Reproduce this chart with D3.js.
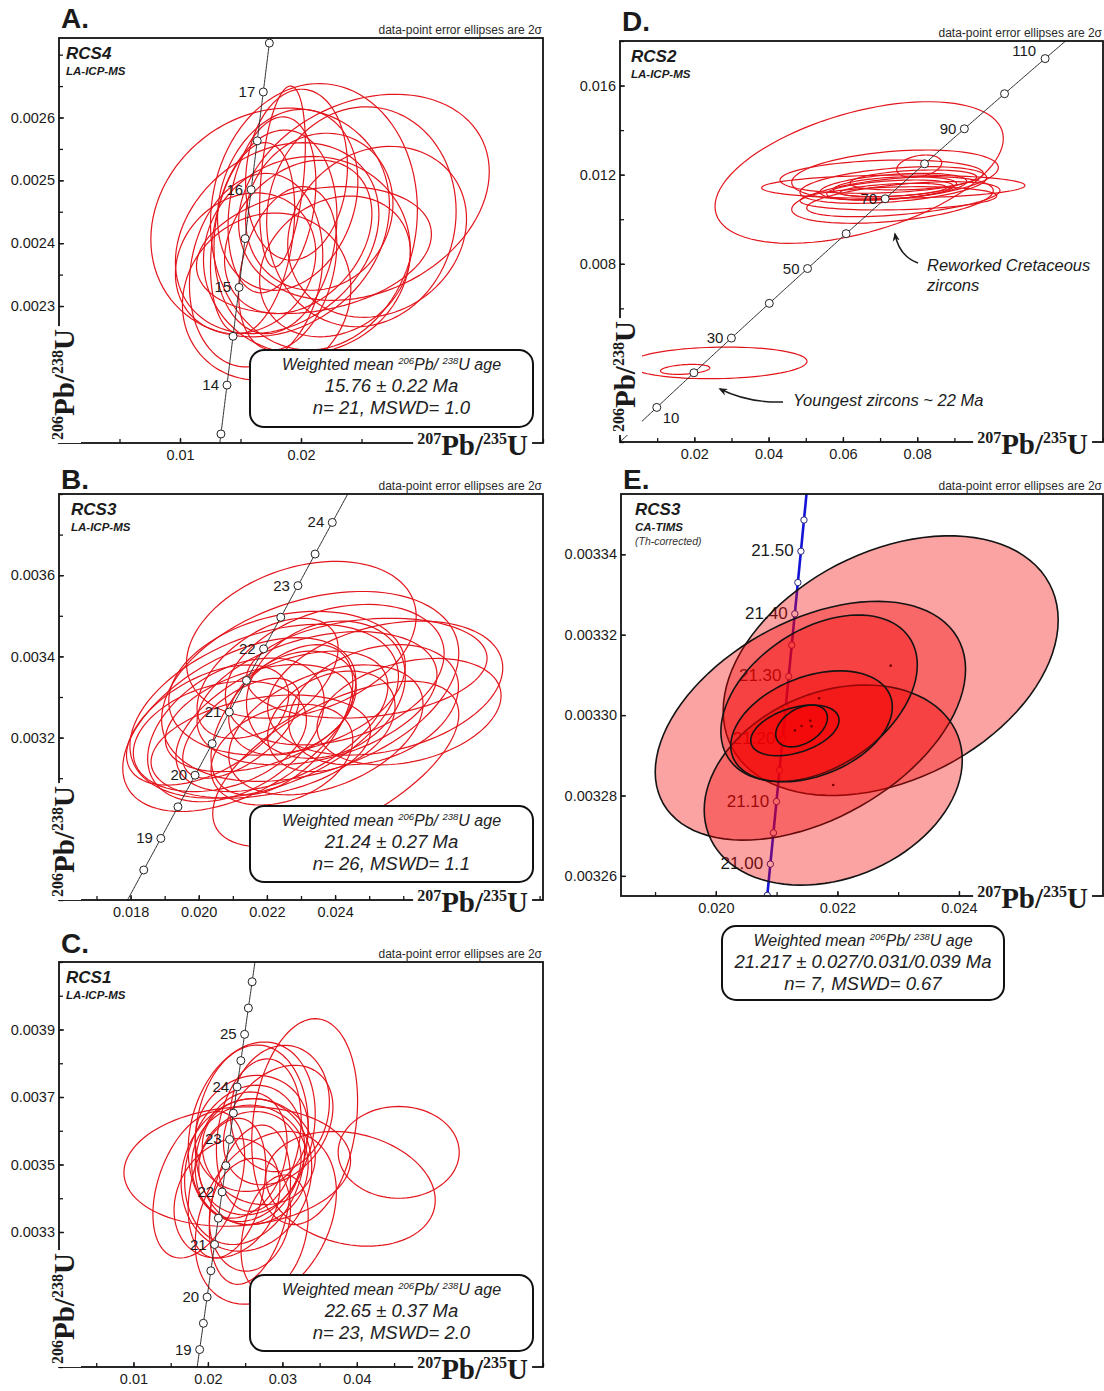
<!DOCTYPE html>
<html>
<head>
<meta charset="utf-8">
<script src="https://cdn.jsdelivr.net/npm/d3@7"></script>
<style>
  body { margin: 0; background: #fff; }
  svg { display: block; }
</style>
</head>
<body>
<svg id="fig" width="1104" height="1391"></svg>
<script>
// ---------------------------------------------------------------
// U-Pb concordia diagrams, samples RCS1-RCS4.
// Each analysis: [207Pb/235U, 2s, 206Pb/238U, 2s, error correlation]
// ---------------------------------------------------------------
const rcs4Spots = [
  [0.01745, 0.00986, 0.002433, 0.000182, 0.15],
  [0.02520, 0.01036, 0.002473, 0.000164, 0.25],
  [0.02107, 0.00855, 0.002442, 0.000212, 0.05],
  [0.01847, 0.00189, 0.002506, 0.000144, 0.35],
  [0.01716, 0.00696, 0.002315, 0.000133, 0.10],
  [0.01803, 0.00841, 0.002408, 0.000152, 0.25],
  [0.01789, 0.00508, 0.002418, 0.000162, 0.15],
  [0.01977, 0.00609, 0.002410, 0.000122, 0.30],
  [0.02107, 0.00971, 0.002389, 0.000101, 0.25],
  [0.02151, 0.00609, 0.002450, 0.000125, 0.10],
  [0.01760, 0.00363, 0.002461, 0.000140, 0.25],
  [0.01600, 0.00348, 0.002408, 0.000152, 0.30],
  [0.02499, 0.00783, 0.002442, 0.000175, 0.05],
  [0.02629, 0.00739, 0.002418, 0.000136, 0.15],
  [0.01629, 0.00551, 0.002357, 0.000154, 0.15],
  [0.01963, 0.00421, 0.002509, 0.000136, 0.10],
  [0.01890, 0.00580, 0.002469, 0.000144, 0.20],
  [0.02049, 0.00855, 0.002381, 0.000157, 0.05],
  [0.01890, 0.00406, 0.002360, 0.000130, 0.30],
  [0.02281, 0.00623, 0.002363, 0.000112, 0.20],
  [0.01542, 0.00580, 0.002368, 0.000112, 0.15]
];

const rcs3LaSpots = [
  [0.02301, 0.00337, 0.003441, 0.000193, 0.30],
  [0.02547, 0.00345, 0.003322, 0.000165, 0.30],
  [0.02119, 0.00342, 0.003232, 0.000214, 0.50],
  [0.02402, 0.00361, 0.003135, 0.000204, 0.60],
  [0.02192, 0.00394, 0.003265, 0.000214, 0.40],
  [0.02327, 0.00436, 0.003326, 0.000234, 0.35],
  [0.02109, 0.00259, 0.003219, 0.000177, 0.40],
  [0.02399, 0.00321, 0.003355, 0.000173, 0.30],
  [0.02244, 0.00311, 0.003240, 0.000173, 0.50],
  [0.02373, 0.00233, 0.003318, 0.000169, 0.20],
  [0.02062, 0.00254, 0.003203, 0.000136, 0.30],
  [0.02347, 0.00352, 0.003297, 0.000164, 0.35],
  [0.02177, 0.00275, 0.003248, 0.000132, 0.40],
  [0.02244, 0.00208, 0.003244, 0.000185, 0.50],
  [0.02513, 0.00249, 0.003281, 0.000148, 0.30],
  [0.02275, 0.00187, 0.003285, 0.000128, 0.30],
  [0.02182, 0.00322, 0.003178, 0.000127, 0.30],
  [0.02493, 0.00353, 0.003371, 0.000123, 0.20],
  [0.02124, 0.00171, 0.003223, 0.000123, 0.60],
  [0.02026, 0.00238, 0.003231, 0.000148, 0.50],
  [0.02373, 0.00285, 0.003219, 0.000160, 0.40],
  [0.02202, 0.00207, 0.003346, 0.000148, 0.50],
  [0.02617, 0.00270, 0.003264, 0.000131, 0.30],
  [0.02259, 0.00347, 0.003334, 0.000177, 0.25],
  [0.02389, 0.00187, 0.003240, 0.000124, 0.30],
  [0.02244, 0.00208, 0.003158, 0.000124, 0.30]
];

const rcs1Spots = [
  [0.02394, 0.01522, 0.003494, 0.000177, 0.10],
  [0.04562, 0.00813, 0.003536, 0.000136, 0.00],
  [0.03915, 0.01138, 0.003428, 0.000170, -0.20],
  [0.03299, 0.00711, 0.003627, 0.000305, 0.20],
  [0.02777, 0.00948, 0.003342, 0.000256, 0.30],
  [0.02588, 0.00853, 0.003597, 0.000266, 0.20],
  [0.02588, 0.00759, 0.003588, 0.000266, 0.10],
  [0.02493, 0.00806, 0.003499, 0.000236, 0.20],
  [0.02517, 0.00877, 0.003469, 0.000226, 0.10],
  [0.02564, 0.00782, 0.003499, 0.000177, 0.00],
  [0.02564, 0.00687, 0.003504, 0.000153, 0.10],
  [0.02446, 0.00617, 0.003528, 0.000187, 0.20],
  [0.02564, 0.00545, 0.003381, 0.000236, 0.30],
  [0.01877, 0.00616, 0.003440, 0.000217, 0.40],
  [0.02683, 0.00759, 0.003538, 0.000157, -0.10],
  [0.02683, 0.00569, 0.003587, 0.000226, 0.20],
  [0.02944, 0.00735, 0.003617, 0.000177, 0.30],
  [0.02564, 0.00545, 0.003351, 0.000167, 0.10],
  [0.02256, 0.00521, 0.003430, 0.000207, 0.30],
  [0.02967, 0.00664, 0.003666, 0.000187, 0.10],
  [0.02896, 0.00451, 0.003297, 0.000172, 0.30],
  [0.02256, 0.00711, 0.003400, 0.000177, 0.20],
  [0.02588, 0.00759, 0.003592, 0.000172, 0.10]
];

const rcs2Spots = [
  [0.02635, 0.02398, 0.003551, 0.000710, 0.10],
  [0.01754, 0.00664, 0.003260, 0.000224, 0.30],
  [0.06437, 0.03880, 0.012097, 0.003178, 0.48],
  [0.07357, 0.03544, 0.011462, 0.000523, 0.10],
  [0.07402, 0.02781, 0.011985, 0.001122, 0.30],
  [0.07334, 0.02713, 0.010863, 0.001046, 0.40],
  [0.07357, 0.02513, 0.011536, 0.000822, 0.40],
  [0.07357, 0.01974, 0.011462, 0.000598, 0.40],
  [0.07402, 0.01659, 0.011460, 0.000449, 0.30],
  [0.07492, 0.02647, 0.010937, 0.000523, 0.20],
  [0.08053, 0.00606, 0.012383, 0.000500, 0.30],
  [0.07896, 0.01705, 0.011761, 0.000449, 0.30],
  [0.07042, 0.02736, 0.011911, 0.000747, 0.20],
  [0.07626, 0.02601, 0.010899, 0.000786, 0.50],
  [0.07267, 0.01704, 0.011312, 0.000449, 0.40],
  [0.07357, 0.01436, 0.011312, 0.000300, 0.40]
];

const rcs3TimsSpots = [
  [0.022877, 0.002756, 0.0033123, 0.0000323, 0.35],
  [0.021556, 0.002553, 0.0032986, 0.0000297, 0.43],
  [0.021932, 0.002123, 0.0032826, 0.0000249, 0.25],
  [0.021699, 0.001616, 0.0033042, 0.0000207, 0.40],
  [0.021575, 0.001329, 0.0032972, 0.0000138, 0.35],
  [0.021301, 0.000726, 0.0032962, 0.0000063, 0.40],
  [0.021411, 0.000425, 0.0032973, 0.0000052, 0.40]
];

// Concordia age marks (Ma) and which of them carry a label
const rcs4Marks = [13.5, 14, 14.5, 15, 15.5, 16, 16.5, 17, 17.5];
const rcs4MarkLabels = ["14", "15", "16", "17"];
const rcs3LaMarks = [18.5, 19, 19.5, 20, 20.5, 21, 21.5, 22, 22.5, 23, 23.5, 24];
const rcs3LaMarkLabels = ["19", "20", "21", "22", "23", "24"];
const rcs1Marks = [19, 19.5, 20, 20.5, 21, 21.5, 22, 22.5, 23, 23.5, 24, 24.5, 25, 25.5, 26];
const rcs1MarkLabels = ["19", "20", "21", "22", "23", "24", "25"];
const rcs2Marks = [10, 20, 30, 40, 50, 60, 70, 80, 90, 100, 110];
const rcs2MarkLabels = ["10", "30", "50", "70", "90", "110"];
const rcs3TimsMarks = [20.95, 21.0, 21.05, 21.1, 21.15, 21.2, 21.25, 21.3, 21.35, 21.4, 21.45, 21.5, 21.55];
const rcs3TimsMarkLabels = ["21.00", "21.10", "21.20", "21.30", "21.40", "21.50"];

// Axis tick labels
const rcs4XTicks = ["0.01", "0.02"];
const rcs4YTicks = ["0.0023", "0.0024", "0.0025", "0.0026"];
const rcs3LaXTicks = ["0.018", "0.020", "0.022", "0.024"];
const rcs3LaYTicks = ["0.0032", "0.0034", "0.0036"];
const rcs1XTicks = ["0.01", "0.02", "0.03", "0.04"];
const rcs1YTicks = ["0.0033", "0.0035", "0.0037", "0.0039"];
const rcs2XTicks = ["0.02", "0.04", "0.06", "0.08"];
const rcs2YTicks = ["0.008", "0.012", "0.016"];
const rcs3TimsXTicks = ["0.020", "0.022", "0.024"];
const rcs3TimsYTicks = ["0.00326", "0.00328", "0.00330", "0.00332", "0.00334"];

// Weighted mean summaries
const rcs4Summary = ["15.76 \u00b1 0.22 Ma", "n= 21, MSWD= 1.0"];
const rcs3LaSummary = ["21.24 \u00b1 0.27 Ma", "n= 26, MSWD= 1.1"];
const rcs1Summary = ["22.65 \u00b1 0.37 Ma", "n= 23, MSWD= 2.0"];
const rcs3TimsSummary = ["21.217 \u00b1 0.027/0.031/0.039 Ma", "n= 7, MSWD= 0.67"];

// ---------------------------------------------------------------
const SANS = "'Liberation Sans', Arial, Helvetica, sans-serif";
const SERIF = "'Liberation Serif', 'Times New Roman', Times, serif";
const INK = "#1b1b1b";

// U decay constants (1/yr)
const LAMBDA_238 = 1.55125e-10;
const LAMBDA_235 = 9.8485e-10;
function concordiaPoint(ageMa) {
  const t = ageMa * 1e6;
  return [Math.expm1(LAMBDA_235 * t), Math.expm1(LAMBDA_238 * t)];
}

// Error ellipse outline from 2s errors and correlation
function ellipseOutline(spot, n = 96) {
  const [cx, ex, cy, ey, rho] = spot;
  const s = Math.sqrt(1 - rho * rho);
  return d3.range(n).map(i => {
    const a = 2 * Math.PI * i / n;
    return [cx + ex * Math.cos(a), cy + ey * (rho * Math.cos(a) + s * Math.sin(a))];
  });
}

function stepTicks(domain, step) {
  const k0 = Math.ceil(domain[0] / step - 1e-9), k1 = Math.floor(domain[1] / step + 1e-9);
  return d3.range(k0, k1 + 1).map(k => +(k * step).toPrecision(10));
}

const svg = d3.select("#fig");
const defs = svg.append("defs");
defs.append("marker").attr("id", "arrowHead")
  .attr("viewBox", "0 0 10 10").attr("refX", 8).attr("refY", 5)
  .attr("markerWidth", 9).attr("markerHeight", 9).attr("orient", "auto-start-reverse")
  .attr("markerUnits", "userSpaceOnUse")
  .append("path").attr("d", "M0,1 L10,5 L0,9 L3,5 Z").attr("fill", INK);

// Ratio title with mass-number superscripts
function ratioTitle(sel, a, b, c, d, size, supSize) {
  const lift = Math.round(size * 0.38);
  sel.append("tspan").attr("font-size", supSize).attr("dy", -lift).text(a);
  sel.append("tspan").attr("font-size", size).attr("dy", lift).text(b);
  sel.append("tspan").attr("font-size", supSize).attr("dy", -lift).text(c);
  sel.append("tspan").attr("font-size", size).attr("dy", lift).text(d);
}

// white strip that interrupts the axis line behind a title
function axisGap(g, textSel, pad, band) {
  const bb = textSel.node().getBBox();
  const y0 = band ? band[0] : bb.y - 1;
  const h = band ? band[1] - band[0] : bb.height + 2;
  g.insert("rect", () => textSel.node())
    .attr("x", bb.x - pad).attr("y", y0)
    .attr("width", bb.width + 2 * pad).attr("height", h)
    .attr("fill", "#fff");
}

function drawPanel(p) {
  const { l, r, t, b } = p.frame;
  const x = d3.scaleLinear().domain(p.xDomain).range([l, r]);
  const y = d3.scaleLinear().domain(p.yDomain).range([b, t]);
  const g = svg.append("g");
  const clipId = "clip-" + p.key;
  defs.append("clipPath").attr("id", clipId).append("rect")
    .attr("x", l).attr("y", t).attr("width", r - l).attr("height", b - t);
  const plot = g.append("g").attr("clip-path", `url(#${clipId})`);

  const path = d3.line().x(d => x(d[0])).y(d => y(d[1]));
  const closedPath = d3.line().x(d => x(d[0])).y(d => y(d[1])).curve(d3.curveLinearClosed);

  function drawConcordia() {
    const ages = d3.range(p.curveSpan[0], p.curveSpan[1], (p.curveSpan[1] - p.curveSpan[0]) / 300)
      .concat([p.curveSpan[1]]);
    plot.append("path").attr("d", path(ages.map(concordiaPoint)))
      .attr("fill", "none").attr("stroke", p.curveColor).attr("stroke-width", p.curveWidth);
    plot.selectAll(null).data(p.marks).enter().append("circle")
      .attr("cx", d => x(concordiaPoint(d)[0])).attr("cy", d => y(concordiaPoint(d)[1]))
      .attr("r", p.markR).attr("fill", "#fff")
      .attr("stroke", p.markStroke).attr("stroke-width", 1);
    p.markLabels.forEach(lbl => {
      const pt = concordiaPoint(+lbl);
      const off = (p.labelOffset && p.labelOffset[lbl]) || [-p.markR - 4, 5, "end"];
      plot.append("text").attr("x", x(pt[0]) + off[0]).attr("y", y(pt[1]) + off[1])
        .attr("text-anchor", off[2]).attr("font-family", SANS)
        .attr("font-size", p.markFont).attr("fill", INK).text(lbl);
    });
  }

  if (p.filled) drawConcordia();

  // error ellipses
  const ell = plot.selectAll(".ell").data(p.spots).enter().append("path")
    .attr("class", "ell").attr("d", d => closedPath(ellipseOutline(d)));
  if (p.filled) {
    ell.attr("fill", "rgba(244,0,0,0.36)").attr("stroke", "#141414").attr("stroke-width", 1.6);
    plot.selectAll(".ctr").data(p.spots).enter().append("circle")
      .attr("cx", d => x(d[0])).attr("cy", d => y(d[2])).attr("r", 1.3).attr("fill", "#7a0000");
  } else {
    ell.attr("fill", "none").attr("stroke", "#e3151c").attr("stroke-width", 1.2);
    drawConcordia();
  }

  // ticks
  const tickColor = "#1a1a1a";
  const xMinor = stepTicks(p.xDomain, p.xStep);
  const yMinor = stepTicks(p.yDomain, p.yStep);
  const axisStyle = s => {
    s.select(".domain").remove();
    s.attr("font-family", SANS).attr("font-size", 14.5).attr("color", tickColor);
    s.selectAll("line").attr("stroke-width", 1.3);
  };
  g.append("g").attr("transform", `translate(0,${b})`)
    .call(d3.axisBottom(x).tickValues(xMinor).tickSize(-4).tickFormat(""))
    .call(axisStyle);
  g.append("g").attr("transform", `translate(${l},0)`)
    .call(d3.axisLeft(y).tickValues(yMinor).tickSize(-4).tickFormat(""))
    .call(axisStyle);
  g.append("g").attr("transform", `translate(0,${b})`)
    .call(d3.axisBottom(x).tickValues(p.xTicks.map(Number))
      .tickFormat((d, i) => p.xTicks[i]).tickSize(-5).tickPadding(7))
    .call(axisStyle);
  g.append("g").attr("transform", `translate(${l},0)`)
    .call(d3.axisLeft(y).tickValues(p.yTicks.map(Number))
      .tickFormat((d, i) => p.yTicks[i]).tickSize(-5).tickPadding(4))
    .call(axisStyle);

  // frame
  g.append("rect").attr("x", l).attr("y", t).attr("width", r - l).attr("height", b - t)
    .attr("fill", "none").attr("stroke", "#111").attr("stroke-width", 1.8);

  // axis titles
  const xt = g.append("text").attr("x", r - 15).attr("y", b + 12)
    .attr("text-anchor", "end").attr("font-family", SERIF).attr("font-weight", "bold").attr("fill", INK);
  ratioTitle(xt, "207", "Pb/", "235", "U", 29, 16);
  axisGap(g, xt, 4, [b - 7, b + 3]);

  if (p.yTitle) {
    const yg = g.append("g").attr("transform", `translate(${l + 15},${p.yTitle}) rotate(-90)`);
    const yt = yg.append("text").attr("x", 0).attr("y", 0)
      .attr("font-family", SERIF).attr("font-weight", "bold").attr("fill", INK);
    ratioTitle(yt, "206", "Pb/", "238", "U", 29, 16);
    axisGap(yg, yt, 3, null);
  }

  // panel letter and caption
  g.append("text").attr("x", l + 2).attr("y", p.letterY)
    .attr("font-family", SANS).attr("font-weight", "bold").attr("font-size", 28)
    .attr("fill", INK).text(p.letter);
  g.append("text").attr("x", r - 1).attr("y", t - 4).attr("text-anchor", "end")
    .attr("font-family", SANS).attr("font-size", 12).attr("fill", "#2a2a2a")
    .text("data-point error ellipses are 2\u03c3");

  // sample name and method
  g.append("text").attr("x", p.nameX).attr("y", t + 21)
    .attr("font-family", SANS).attr("font-weight", "bold").attr("font-style", "italic")
    .attr("font-size", 17).attr("fill", INK).text(p.sample);
  g.append("text").attr("x", p.nameX).attr("y", t + 37)
    .attr("font-family", SANS).attr("font-weight", "bold").attr("font-style", "italic")
    .attr("font-size", 11.5).attr("fill", INK).text(p.method);
  if (p.note) {
    g.append("text").attr("x", p.nameX).attr("y", t + 51)
      .attr("font-family", SANS).attr("font-style", "italic")
      .attr("font-size", 10.5).attr("fill", "#333").text(p.note);
  }

  // weighted mean box
  if (p.summary) {
    const bx = p.box;
    g.append("rect").attr("x", bx.x).attr("y", bx.y).attr("width", bx.w).attr("height", bx.h)
      .attr("rx", 14).attr("fill", "#fff").attr("stroke", "#111").attr("stroke-width", 2);
    const cx = bx.x + bx.w / 2;
    const t1 = g.append("text").attr("x", cx).attr("y", bx.y + 20).attr("text-anchor", "middle")
      .attr("font-family", SANS).attr("font-style", "italic").attr("font-size", 16).attr("fill", "#222");
    t1.append("tspan").text("Weighted mean ");
    t1.append("tspan").attr("font-size", 9.5).attr("dy", -6).text("206");
    t1.append("tspan").attr("dy", 6).text("Pb/ ");
    t1.append("tspan").attr("font-size", 9.5).attr("dy", -6).text("238");
    t1.append("tspan").attr("dy", 6).text("U age");
    p.summary.forEach((s, i) => {
      g.append("text").attr("x", cx).attr("y", bx.y + 42 + i * 22).attr("text-anchor", "middle")
        .attr("font-family", SANS).attr("font-style", "italic").attr("font-size", 18.5)
        .attr("fill", "#222").text(s);
    });
  }
  return { g, x, y };
}

const lineStyle = { curveColor: "#2a2a2a", curveWidth: 1, markR: 4, markStroke: "#222", markFont: 15 };

drawPanel(Object.assign({
  key: "A", letter: "A.", letterY: 28, sample: "RCS4", method: "LA-ICP-MS", nameX: 66,
  frame: { l: 59, r: 543, t: 38, b: 443 },
  xDomain: [0, 0.04], yDomain: [0.002082, 0.0027265], xStep: 0.005, yStep: 0.00005,
  xTicks: rcs4XTicks, yTicks: rcs4YTicks, spots: rcs4Spots,
  marks: rcs4Marks, markLabels: rcs4MarkLabels, curveSpan: [13.2, 17.5],
  yTitle: 440, summary: rcs4Summary, box: { x: 250, y: 350, w: 283, h: 77 }
}, lineStyle));

drawPanel(Object.assign({
  key: "B", letter: "B.", letterY: 489, sample: "RCS3", method: "LA-ICP-MS", nameX: 71,
  frame: { l: 59, r: 543, t: 494, b: 900 },
  xDomain: [0.0159, 0.0301], yDomain: [0.0028, 0.0038], xStep: 0.001, yStep: 0.0001,
  xTicks: rcs3LaXTicks, yTicks: rcs3LaYTicks, spots: rcs3LaSpots,
  marks: rcs3LaMarks, markLabels: rcs3LaMarkLabels, curveSpan: [18.0, 25.0],
  yTitle: 897, summary: rcs3LaSummary, box: { x: 250, y: 806, w: 283, h: 76 }
}, lineStyle));

drawPanel(Object.assign({
  key: "C", letter: "C.", letterY: 953, sample: "RCS1", method: "LA-ICP-MS", nameX: 66,
  frame: { l: 59, r: 543, t: 962, b: 1367 },
  xDomain: [0, 0.065], yDomain: [0.0029, 0.0041], xStep: 0.005, yStep: 0.0001,
  xTicks: rcs1XTicks, yTicks: rcs1YTicks, spots: rcs1Spots,
  marks: rcs1Marks, markLabels: rcs1MarkLabels, curveSpan: [18.5, 27.0],
  yTitle: 1364, summary: rcs1Summary, box: { x: 250, y: 1275, w: 283, h: 76 }
}, lineStyle));

drawPanel(Object.assign({
  key: "D", letter: "D.", letterY: 31, sample: "RCS2", method: "LA-ICP-MS", nameX: 631,
  frame: { l: 620, r: 1103, t: 41, b: 442 },
  xDomain: [0, 0.13], yDomain: [0, 0.018], xStep: 0.01, yStep: 0.002,
  xTicks: rcs2XTicks, yTicks: rcs2YTicks, spots: rcs2Spots,
  marks: rcs2Marks, markLabels: rcs2MarkLabels, curveSpan: [0, 118],
  labelOffset: { "10": [6, 16, "start"], "110": [-9, -3, "end"] },
  yTitle: 432
}, lineStyle));

drawPanel({
  key: "E", letter: "E.", letterY: 489, sample: "RCS3", method: "CA-TIMS", note: "(Th-corrected)", nameX: 635,
  frame: { l: 621, r: 1103, t: 494, b: 896 },
  xDomain: [0.01844, 0.02637], yDomain: [0.003255, 0.003355], xStep: 0.001, yStep: 0.00002,
  xTicks: rcs3TimsXTicks, yTicks: rcs3TimsYTicks, spots: rcs3TimsSpots,
  marks: rcs3TimsMarks, markLabels: rcs3TimsMarkLabels, curveSpan: [20.9, 21.62],
  filled: true, curveColor: "#1414d6", curveWidth: 2.6, markR: 3.2, markStroke: "#24247a", markFont: 17,
  labelOffset: null,
  summary: rcs3TimsSummary, box: { x: 722, y: 926, w: 282, h: 74 }
});

// annotations in the RCS2 diagram
const ann = svg.append("g").attr("font-family", SANS).attr("font-style", "italic")
  .attr("font-size", 16.5).attr("fill", INK);
ann.append("text").attr("x", 927).attr("y", 271).text("Reworked Cretaceous");
ann.append("text").attr("x", 927).attr("y", 291).text("zircons");
ann.append("text").attr("x", 793).attr("y", 406).text("Youngest zircons ~ 22 Ma");
svg.append("path").attr("d", "M918,263 Q899,256 895,234")
  .attr("fill", "none").attr("stroke", INK).attr("stroke-width", 1.4).attr("marker-end", "url(#arrowHead)");
svg.append("path").attr("d", "M783,402 Q748,403 720,389")
  .attr("fill", "none").attr("stroke", INK).attr("stroke-width", 1.4).attr("marker-end", "url(#arrowHead)");
</script>
</body>
</html>
